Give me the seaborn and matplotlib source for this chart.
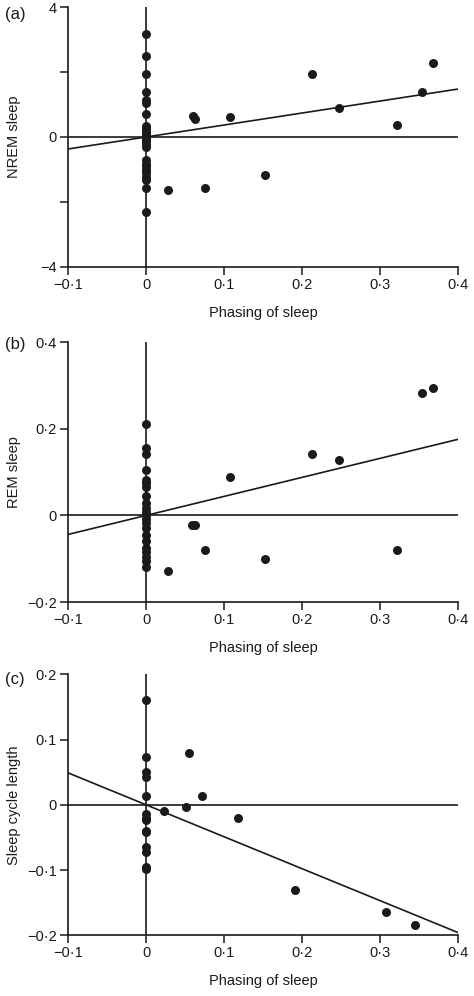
import numpy as np
import pandas as pd
import matplotlib
matplotlib.use("Agg")
import matplotlib.pyplot as plt
from matplotlib.ticker import FuncFormatter, FixedLocator
import seaborn as sns

# ---------------- data ----------------
# Panel (a): NREM sleep vs phasing of sleep
nrem_x = [0, 0, 0, 0, 0, 0, 0, 0, 0, 0, 0, 0, 0, 0, 0, 0, 0, 0, 0, 0, 0, 0, 0, 0, 0,
          0.028, 0.060, 0.063, 0.076, 0.108, 0.153, 0.212, 0.247, 0.321, 0.354, 0.368]
nrem_y = [3.17, 2.50, 1.94, 1.38, 1.15, 1.05, 0.71, 0.35, 0.25, 0.15, 0.08, 0.02,
          -0.05, -0.12, -0.22, -0.32, -0.72, -0.82, -0.92, -1.02, -1.12, -1.22, -1.32,
          -1.56, -2.31,
          -1.63, 0.66, 0.56, -1.56, 0.61, -1.18, 1.94, 0.88, 0.37, 1.39, 2.27]
nrem_slope = 3.7

# Panel (b): REM sleep vs phasing of sleep
rem_x = [0, 0, 0, 0, 0, 0, 0, 0, 0, 0, 0, 0, 0, 0, 0, 0, 0, 0, 0, 0, 0, 0,
         0.028, 0.059, 0.063, 0.076, 0.108, 0.153, 0.212, 0.247, 0.321, 0.353, 0.368]
rem_y = [0.212, 0.155, 0.141, 0.105, 0.083, 0.075, 0.066, 0.045, 0.028, 0.018, 0.008,
         0.0, -0.008, -0.018, -0.030, -0.045, -0.060, -0.075, -0.085, -0.095, -0.105,
         -0.118,
         -0.129, -0.021, -0.021, -0.080, 0.088, -0.100, 0.141, 0.129, -0.080, 0.283, 0.295]
rem_slope = 0.44

# Panel (c): sleep cycle length vs phasing of sleep
cyc_x = [0, 0, 0, 0, 0, 0, 0, 0, 0, 0, 0, 0, 0, 0,
         0.023, 0.051, 0.055, 0.072, 0.118, 0.191, 0.307, 0.345]
cyc_y = [0.160, 0.074, 0.050, 0.043, 0.014, -0.014, -0.020, -0.023, -0.040, -0.042,
         -0.064, -0.073, -0.096, -0.098,
         -0.009, -0.003, 0.080, 0.014, -0.020, -0.130, -0.164, -0.184]
cyc_slope = -0.49

x_ticks = [-0.1, 0, 0.1, 0.2, 0.3, 0.4]
x_lim = [-0.1, 0.4]

panels = [
    dict(tag="(a)", x=nrem_x, y=nrem_y, slope=nrem_slope, ylabel="NREM sleep",
         ylim=[-4, 4], yticks=[-4, 0, 4], yminor=[-2, 2]),
    dict(tag="(b)", x=rem_x, y=rem_y, slope=rem_slope, ylabel="REM sleep",
         ylim=[-0.2, 0.4], yticks=[-0.2, 0, 0.2, 0.4], yminor=[]),
    dict(tag="(c)", x=cyc_x, y=cyc_y, slope=cyc_slope, ylabel="Sleep cycle length",
         ylim=[-0.2, 0.2], yticks=[-0.2, -0.1, 0, 0.1, 0.2], yminor=[]),
]

# ---------------- style ----------------
sns.set_theme(style="ticks")
plt.rcParams["font.family"] = ["Liberation Sans", "DejaVu Sans"]
plt.rcParams["axes.linewidth"] = 1.0
FS = 10.5
INK = "#1a1a1a"


def fmt(v, pos=None):
    if abs(v) < 1e-9:
        return "0"
    s = f"{v:g}"
    return s.replace(".", "\u00b7").replace("-", "\u2212")


fig = plt.figure(figsize=(4.74, 9.96), dpi=100)
W, H = 474.0, 996.0
boxes = [(7.3, 266.7), (342.3, 602.0), (674.3, 935.3)]
left_px, right_px = 68.0, 458.3
tag_y = [15, 345, 679]

for p, (top, bot), ty in zip(panels, boxes, tag_y):
    ax = fig.add_axes([left_px / W, 1 - bot / H, (right_px - left_px) / W, (bot - top) / H])
    df = pd.DataFrame({"x": p["x"], "y": p["y"]})

    # reference lines
    ax.axhline(0, color=INK, lw=1.2, zorder=1)
    ax.axvline(0, color=INK, lw=1.2, zorder=1)

    # regression line (through origin)
    line_x = np.array(x_lim)
    sns.lineplot(x=line_x, y=p["slope"] * line_x, ax=ax, color=INK, lw=1.2, zorder=2)

    sns.scatterplot(data=df, x="x", y="y", ax=ax, color=INK, s=42,
                    edgecolor=INK, linewidth=0, zorder=3, clip_on=False)

    ax.set_xlim(*x_lim)
    ax.set_ylim(*p["ylim"])
    ax.xaxis.set_major_locator(FixedLocator(x_ticks))
    ax.yaxis.set_major_locator(FixedLocator(p["yticks"]))
    if p["yminor"]:
        ax.yaxis.set_minor_locator(FixedLocator(p["yminor"]))
    ax.xaxis.set_major_formatter(FuncFormatter(fmt))
    ax.yaxis.set_major_formatter(FuncFormatter(fmt))
    ax.tick_params(axis="both", which="both", direction="out", length=5.5, width=1.1,
                   color=INK, labelsize=FS, labelcolor=INK, pad=2.5)
    sns.despine(ax=ax)
    for s in ("left", "bottom"):
        ax.spines[s].set_color(INK)
        ax.spines[s].set_linewidth(1.2)

    ax.set_xlabel("Phasing of sleep", fontsize=FS, color=INK, labelpad=10)
    ax.set_ylabel(p["ylabel"], fontsize=FS, color=INK, va="center")
    ax.yaxis.set_label_coords(-(68 - 14) / (right_px - left_px), 0.5)

    fig.text(5 / W, 1 - ty / H, p["tag"], fontsize=FS + 1.5, color=INK,
             ha="left", va="center")

fig.savefig("out.png", dpi=100)
